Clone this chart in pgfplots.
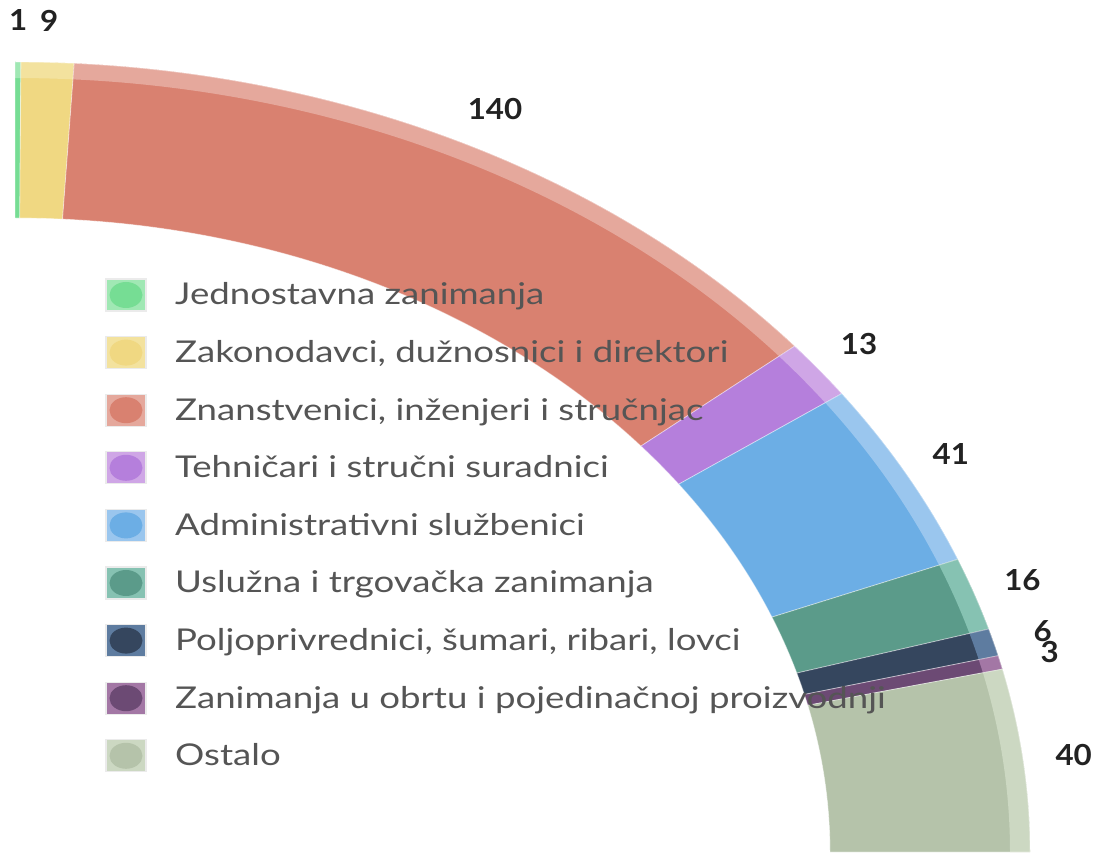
\documentclass[border=0pt]{standalone}
\usepackage{pgfplots}
\usepackage{pgfplotstable}
\usepackage{fontspec}
\pgfplotsset{compat=1.18}
\setmainfont{Lato}[FakeStretch=1.22]
\newfontfamily\numfont{Lato}[FakeStretch=1.08]

\definecolor{cJ}{HTML}{76DD94}\definecolor{bJ}{HTML}{A0E8B4}
\definecolor{cZ}{HTML}{F0D882}\definecolor{bZ}{HTML}{F3E29E}
\definecolor{cS}{HTML}{D98170}\definecolor{bS}{HTML}{E5A89C}
\definecolor{cT}{HTML}{B57FDC}\definecolor{bT}{HTML}{CFA6E6}
\definecolor{cA}{HTML}{6CAEE5}\definecolor{bA}{HTML}{9AC6EE}
\definecolor{cU}{HTML}{5B9B8A}\definecolor{bU}{HTML}{86C2B2}
\definecolor{cP}{HTML}{35465E}\definecolor{bP}{HTML}{5E7CA0}
\definecolor{cO}{HTML}{6C4A74}\definecolor{bO}{HTML}{A377A5}
\definecolor{cL}{HTML}{B5C3AA}\definecolor{bL}{HTML}{CCD8C2}
\definecolor{legtxt}{HTML}{555555}
\definecolor{numtxt}{HTML}{222222}

\pgfplotstableread{
v   col band
1   cJ  bJ
9   cZ  bZ
140 cS  bS
13  cT  bT
41  cA  bA
16  cU  bU
6   cP  bP
3   cO  bO
40  cL  bL
}\piedata

\newcommand\numsty{\numfont\bfseries\fontsize{29}{34}\selectfont}

% build the sector drawing commands from the table values
\gdef\sectors{}\gdef\cum{0}%
\pgfplotsforeachungrouped \i in {0,...,8}{%
  \pgfplotstablegetelem{\i}{v}\of\piedata \edef\val{\pgfplotsretval}%
  \pgfplotstablegetelem{\i}{col}\of\piedata \edef\col{\pgfplotsretval}%
  \pgfplotstablegetelem{\i}{band}\of\piedata \edef\bcol{\pgfplotsretval}%
  \pgfmathsetmacro\sa{90-\cum/269*90}%
  \pgfmathsetmacro\newcum{\cum+\val}\xdef\cum{\newcum}%
  \pgfmathsetmacro\ea{90-\cum/269*90}%
  \pgfmathsetmacro\ma{(\sa+\ea)/2}%
  \pgfmathsetmacro\oxs{15+1015*cos(\sa)}%
  \pgfmathsetmacro\oys{790*sin(\sa)}%
  \pgfmathsetmacro\ixe{15+815*cos(\ea)}%
  \pgfmathsetmacro\iye{634*sin(\ea)}%
  \pgfmathsetmacro\bxe{15+995*cos(\ea)}%
  \pgfmathsetmacro\bye{774*sin(\ea)}%
  \pgfmathsetmacro\lx{15+1066*cos(\ma)}%
  \pgfmathsetmacro\ly{832*sin(\ma)}%
  \pgfmathtruncatemacro\vv{\val}%
  \xdef\sectors{\unexpanded\expandafter{\sectors}%
    \noexpand\fill[\col] (axis cs:\oxs,\oys) arc[start angle=\sa, end angle=\ea, x radius=1015, y radius=790] -- (axis cs:\ixe,\iye) arc[start angle=\ea, end angle=\sa, x radius=815, y radius=634] -- cycle;
    \noexpand\fill[\bcol] (axis cs:\oxs,\oys) arc[start angle=\sa, end angle=\ea, x radius=1015, y radius=790] -- (axis cs:\bxe,\bye) arc[start angle=\ea, end angle=\sa, x radius=995, y radius=774] -- cycle;
    \noexpand\draw[white, opacity=0.45, line width=0.8pt] (axis cs:\oxs,\oys) arc[start angle=\sa, end angle=\ea, x radius=1015, y radius=790] -- (axis cs:\ixe,\iye) arc[start angle=\ea, end angle=\sa, x radius=815, y radius=634] -- cycle;
    \noexpand\node[text=numtxt, font=\noexpand\numsty] at (axis cs:\lx,\ly) {\vv};
  }%
}%

\begin{document}%
\begin{tikzpicture}
\path[use as bounding box] (0,0) rectangle (1106pt,852pt);
\begin{axis}[at={(0,0)}, anchor=south west, scale only axis,
  width=1106pt, height=852pt, xmin=0, xmax=1106, ymin=0, ymax=852,
  disabledatascaling, hide axis, clip=true]
\addplot[draw=none] coordinates {(0,0) (1106,852)};
\sectors
\end{axis}
\foreach \lab [count=\k from 0] in {Jednostavna zanimanja, {Zakonodavci, dužnosnici i direktori}, {Znanstvenici, inženjeri i stručnjac}, Tehničari i stručni suradnici, Administrativni službenici, Uslužna i trgovačka zanimanja, {Poljoprivrednici, šumari, ribari, lovci}, Zanimanja u obrtu i pojedinačnoj proizvodnji, Ostalo}{
  \pgfmathsetmacro\yc{852-295-57.6*\k}
  \ifcase\k \def\cc{cJ}\def\bb{bJ}\or \def\cc{cZ}\def\bb{bZ}\or \def\cc{cS}\def\bb{bS}\or \def\cc{cT}\def\bb{bT}\or \def\cc{cA}\def\bb{bA}\or \def\cc{cU}\def\bb{bU}\or \def\cc{cP}\def\bb{bP}\or \def\cc{cO}\def\bb{bO}\else \def\cc{cL}\def\bb{bL}\fi
  \fill[\bb, draw=black!8, line width=1.2pt] (106pt,\yc pt-16pt) rectangle (146pt,\yc pt+16pt);
  \fill[\cc] (126pt,\yc pt) ellipse[x radius=16.5pt, y radius=13pt];
  \node[anchor=base west, text=legtxt, font=\fontsize{30}{36}\selectfont, inner sep=0pt] at (175pt,\yc pt-10pt) {\lab};
}
\end{tikzpicture}%
\end{document}
